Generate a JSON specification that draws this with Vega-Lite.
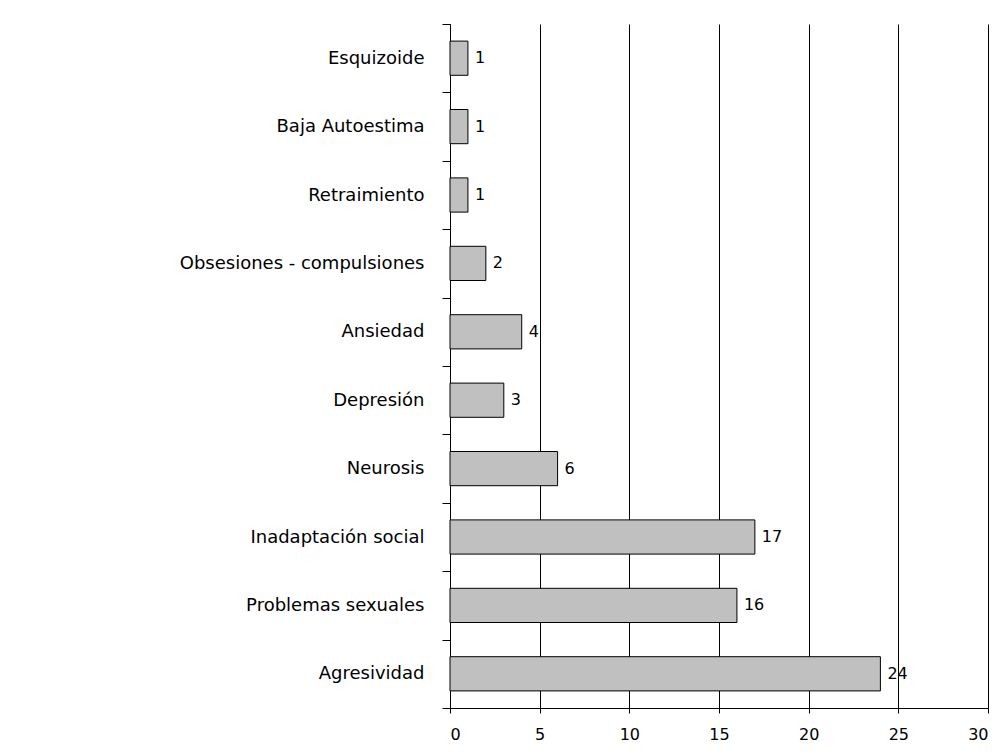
{
  "$schema": "https://vega.github.io/schema/vega-lite/v6.json",
  "width": 538,
  "height": 684,
  "autosize": {"type": "none"},
  "padding": {"left": 450, "top": 24, "right": 20, "bottom": 48},
  "background": "white",
  "config": {
    "view": {"stroke": null},
    "font": "DejaVu Sans"
  },
  "data": {
    "values": [
      {"categoria": "Esquizoide", "valor": 1},
      {"categoria": "Baja Autoestima", "valor": 1},
      {"categoria": "Retraimiento", "valor": 1},
      {"categoria": "Obsesiones - compulsiones", "valor": 2},
      {"categoria": "Ansiedad", "valor": 4},
      {"categoria": "Depresión", "valor": 3},
      {"categoria": "Neurosis", "valor": 6},
      {"categoria": "Inadaptación social", "valor": 17},
      {"categoria": "Problemas sexuales", "valor": 16},
      {"categoria": "Agresividad", "valor": 24}
    ]
  },
  "encoding": {
    "y": {
      "field": "categoria",
      "type": "nominal",
      "sort": null,
      "title": null,
      "scale": {"paddingInner": 0, "paddingOuter": 0},
      "axis": {
        "tickBand": "extent",
        "domainColor": "black",
        "tickColor": "black",
        "tickSize": 8,
        "labelPadding": 18,
        "labelFontSize": 18,
        "labelLimit": 0,
        "labelColor": "black",
        "labelFont": "DejaVu Sans",
        "grid": false
      }
    },
    "x": {
      "field": "valor",
      "type": "quantitative",
      "title": null,
      "scale": {"domain": [0, 30], "nice": false},
      "axis": {
        "values": [0, 5, 10, 15, 20, 25, 30],
        "grid": true,
        "gridColor": "black",
        "gridOpacity": 1,
        "domainColor": "black",
        "tickColor": "black",
        "tickSize": 5,
        "labelPadding": 13,
        "labelFontSize": 16,
        "labelColor": "black",
        "labelFont": "DejaVu Sans"
      }
    }
  },
  "layer": [
    {
      "mark": {"type": "bar", "height": {"band": 0.5}, "fill": "#c0c0c0", "stroke": "black", "strokeWidth": 1}
    },
    {
      "mark": {"type": "text", "align": "left", "baseline": "middle", "dx": 7, "fontSize": 16, "font": "DejaVu Sans", "color": "black"},
      "encoding": {"text": {"field": "valor", "type": "quantitative"}}
    }
  ]
}
